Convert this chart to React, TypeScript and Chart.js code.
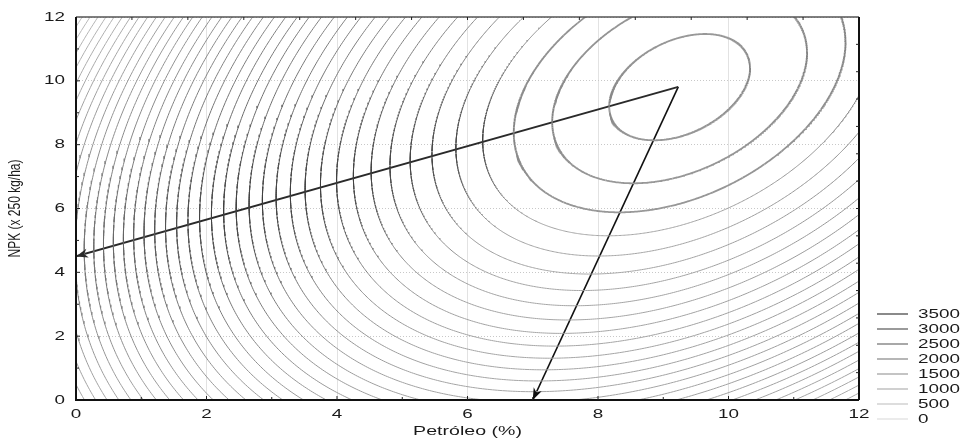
import React, { useEffect, useRef } from "react";
import { Chart, registerables } from "chart.js";

Chart.register(...registerables);

// Fitted response surface: z = b0 + b1*x + b2*y + b11*x^2 + b22*y^2 + b12*x*y
const surfaceCoefficients = [-78.1, 604.1, 168.9, -43.48, -18.26, 20.44];

// Contour levels drawn (step 100)
const contourLevels = [
  3500, 3400, 3300, 3200, 3100, 3000, 2900, 2800, 2700, 2600, 2500, 2400,
  2300, 2200, 2100, 2000, 1900, 1800, 1700, 1600, 1500, 1400, 1300, 1200,
  1100, 1000, 900, 800, 700, 600, 500, 400, 300, 200, 100, 0, -100, -200,
  -300, -400, -500, -600, -700, -800,
];

const legendLevels = [3500, 3000, 2500, 2000, 1500, 1000, 500, 0];
const legendColors = ["#8a8a8a", "#9a9a9a", "#a8a8a8", "#b6b6b6", "#c4c4c4", "#d0d0d0", "#dddddd", "#ebebeb"];

const xTickValues = [0, 2, 4, 6, 8, 10, 12];
const xTickLabels = ["0", "2", "4", "6", "8", "10", "12"];
const yTickValues = [0, 2, 4, 6, 8, 10, 12];
const yTickLabels = ["0", "2", "4", "6", "8", "10", "12"];

const xTitle = "Petróleo (%)";
const yTitle = "NPK (x 250 kg/ha)";

// Arrows: from stationary point to boundary optima
const arrowStart = { x: 9.23, y: 9.81 };
const arrowEnds = [
  { x: 0, y: 4.5 },
  { x: 7, y: 0 },
];

function contourPoints(level: number) {
  const [b0, b1, b2, b11, b22, b12] = surfaceCoefficients;
  const det = 4 * b11 * b22 - b12 * b12;
  const x0 = (-2 * b22 * b1 + b12 * b2) / det;
  const y0 = (-2 * b11 * b2 + b12 * b1) / det;
  const zs = b0 + (b1 * x0 + b2 * y0) / 2;
  const a = -b11, c = -b22, h = -b12 / 2;
  const m = (a + c) / 2;
  const r = Math.sqrt(((a - c) / 2) ** 2 + h * h);
  const l1 = m + r, l2 = m - r;
  const th = 0.5 * Math.atan2(2 * h, a - c);
  const D = zs - level;
  const pts: { x: number; y: number }[] = [];
  if (D <= 0) return pts;
  const r1 = Math.sqrt(D / l1), r2 = Math.sqrt(D / l2);
  const n = 900;
  for (let i = 0; i <= n; i++) {
    const t = (i / n) * Math.PI * 2;
    const u = r1 * Math.cos(t), v = r2 * Math.sin(t);
    pts.push({ x: x0 + u * Math.cos(th) - v * Math.sin(th), y: y0 + u * Math.sin(th) + v * Math.cos(th) });
  }
  return pts;
}

function hexGray(g: number) {
  const v = Math.max(0, Math.min(255, Math.round(g)));
  const hx = v.toString(16).padStart(2, "0");
  return `#${hx}${hx}${hx}`;
}

// line tone: vertical strokes dark, horizontal strokes light (as in the scanned figure)
function contourTone(k: number) {
  if (k <= 2) return { dark: 0x80, light: 0x98, width: 1.8 };
  const f = Math.max(0, Math.min(1, (k - 18) / 24));
  return { dark: 0x3a + f * (0xa0 - 0x3a), light: 0xa6 + f * (0xd2 - 0xa6), width: 1 };
}

const FONT = '"Liberation Sans", Arial, sans-serif';
const STRETCH = 1.45;

function stretchedText(
  ctx: CanvasRenderingContext2D,
  text: string,
  x: number,
  y: number,
  size: number,
  align: CanvasTextAlign,
  rotate = false
) {
  ctx.save();
  ctx.translate(x, y);
  ctx.scale(STRETCH, 1);
  if (rotate) ctx.rotate(-Math.PI / 2);
  ctx.font = `${size}px ${FONT}`;
  ctx.fillStyle = "#1a1a1a";
  ctx.textAlign = align;
  ctx.textBaseline = "middle";
  ctx.fillText(text, 0, 0);
  ctx.restore();
}

const decorPlugin = {
  id: "decor",
  afterDatasetsDraw(chart: any) {
    const ctx: CanvasRenderingContext2D = chart.ctx;
    const xs = chart.scales.x;
    const ys = chart.scales.y;
    const ca = chart.chartArea;

    // arrowheads
    ctx.save();
    arrowEnds.forEach((e, i) => {
      const sx = xs.getPixelForValue(arrowStart.x), sy = ys.getPixelForValue(arrowStart.y);
      const ex = xs.getPixelForValue(e.x), ey = ys.getPixelForValue(e.y);
      const ang = Math.atan2(ey - sy, ex - sx);
      const len = 12, hw = 4.5;
      ctx.fillStyle = i === 0 ? "#2a2a2a" : "#111111";
      ctx.beginPath();
      ctx.moveTo(ex, ey);
      ctx.lineTo(ex - len * Math.cos(ang) + hw * Math.sin(ang), ey - len * Math.sin(ang) - hw * Math.cos(ang));
      ctx.lineTo(ex - len * 0.7 * Math.cos(ang), ey - len * 0.7 * Math.sin(ang));
      ctx.lineTo(ex - len * Math.cos(ang) - hw * Math.sin(ang), ey - len * Math.sin(ang) + hw * Math.cos(ang));
      ctx.closePath();
      ctx.fill();
    });
    ctx.restore();

    // frame
    ctx.save();
    ctx.strokeStyle = "#555555";
    ctx.lineWidth = 1.5;
    ctx.beginPath();
    ctx.moveTo(ca.left, ca.top);
    ctx.lineTo(ca.right, ca.top);
    ctx.stroke();
    ctx.strokeStyle = "#111111";
    ctx.lineWidth = 2;
    ctx.beginPath();
    ctx.moveTo(ca.right, ca.top);
    ctx.lineTo(ca.right, ca.bottom);
    ctx.moveTo(ca.left, ca.top);
    ctx.lineTo(ca.left, ca.bottom);
    ctx.lineTo(ca.right, ca.bottom);
    ctx.stroke();

    // inward ticks bottom / left (every unit)
    ctx.strokeStyle = "#222222";
    ctx.lineWidth = 1;
    ctx.beginPath();
    for (let v = 1; v < 12; v++) {
      const px = xs.getPixelForValue(v);
      const l = v % 2 === 0 ? 4 : 3;
      ctx.moveTo(px, ca.bottom);
      ctx.lineTo(px, ca.bottom - l);
      const py = ys.getPixelForValue(v);
      ctx.moveTo(ca.left, py);
      ctx.lineTo(ca.left + l, py);
    }
    // top / right ticks (14 divisions)
    for (let i = 1; i < 14; i++) {
      const px = ca.left + ((ca.right - ca.left) * i) / 14;
      ctx.moveTo(px, ca.top);
      ctx.lineTo(px, ca.top + 3);
      const py = ca.top + ((ca.bottom - ca.top) * i) / 14;
      ctx.moveTo(ca.right, py);
      ctx.lineTo(ca.right - 3, py);
    }
    ctx.stroke();
    ctx.restore();

    // tick labels
    xTickValues.forEach((v, i) => {
      stretchedText(ctx, xTickLabels[i], xs.getPixelForValue(v), 414, 13, "center");
    });
    yTickValues.forEach((v, i) => {
      stretchedText(ctx, yTickLabels[i], 65, ys.getPixelForValue(v), 13, "right");
    });

    // titles
    stretchedText(ctx, xTitle, (ca.left + ca.right) / 2, 431, 13.5, "center");
    stretchedText(ctx, yTitle, 15, (ca.top + ca.bottom) / 2, 12, "center", true);

    // legend
    legendLevels.forEach((lv, i) => {
      const y = 314 + i * 15;
      ctx.save();
      ctx.strokeStyle = legendColors[i];
      ctx.lineWidth = 2;
      ctx.beginPath();
      ctx.moveTo(877, y);
      ctx.lineTo(908, y);
      ctx.stroke();
      ctx.restore();
      stretchedText(ctx, String(lv), 918, y, 13, "left");
    });
  },
};

export default function App() {
  const canvasRef = useRef<HTMLCanvasElement | null>(null);

  useEffect(() => {
    const canvas = canvasRef.current;
    if (!canvas) return;

    const contourDatasets = contourLevels.map((lv, k) => {
      const tone = contourTone(k);
      return {
        label: `z=${lv}`,
        data: contourPoints(lv),
        showLine: true,
        borderColor: hexGray(tone.dark),
        borderWidth: tone.width,
        pointRadius: 0,
        fill: false,
        tension: 0,
        segment: {
          borderColor: (c: any) => {
            const dx = c.p1.x - c.p0.x;
            const dy = c.p1.y - c.p0.y;
            const len = Math.hypot(dx, dy) || 1;
            const f = Math.pow(Math.abs(dx) / len, 0.8);
            return hexGray(tone.dark + (tone.light - tone.dark) * f);
          },
        },
      };
    });

    const arrowDatasets = arrowEnds.map((e, i) => ({
      label: `arrow${i}`,
      data: [arrowStart, e],
      showLine: true,
      borderColor: i === 0 ? "#2a2a2a" : "#111111",
      borderWidth: i === 0 ? 2 : 1.6,
      pointRadius: 0,
      fill: false,
    }));

    const chart = new Chart(canvas, {
      type: "scatter",
      data: { datasets: [...contourDatasets, ...arrowDatasets] as any },
      options: {
        animation: false,
        responsive: false,
        devicePixelRatio: 1,
        events: [],
        layout: { padding: { left: 0, top: 17, right: 107, bottom: 0 } },
        plugins: { legend: { display: false }, tooltip: { enabled: false } },
        scales: {
          x: {
            type: "linear",
            min: 0,
            max: 12,
            ticks: { display: false, stepSize: 2 },
            grid: { color: "#e2e2e2", lineWidth: 1, drawTicks: false },
            border: { display: false },
            afterFit: (s: any) => {
              s.height = 43;
            },
          },
          y: {
            type: "linear",
            min: 0,
            max: 12,
            ticks: { display: false, stepSize: 2 },
            grid: { color: "#c8c8c8", lineWidth: 1, drawTicks: false },
            border: { display: false, dash: [1, 2] },
            afterFit: (s: any) => {
              s.width = 76;
            },
          },
        },
      },
      plugins: [decorPlugin],
    });

    return () => chart.destroy();
  }, []);

  return (
    <div style={{ position: "absolute", left: 0, top: 0, width: 966, height: 443, background: "#fff" }}>
      <canvas ref={canvasRef} width={966} height={443} style={{ display: "block", width: 966, height: 443 }} />
    </div>
  );
}
